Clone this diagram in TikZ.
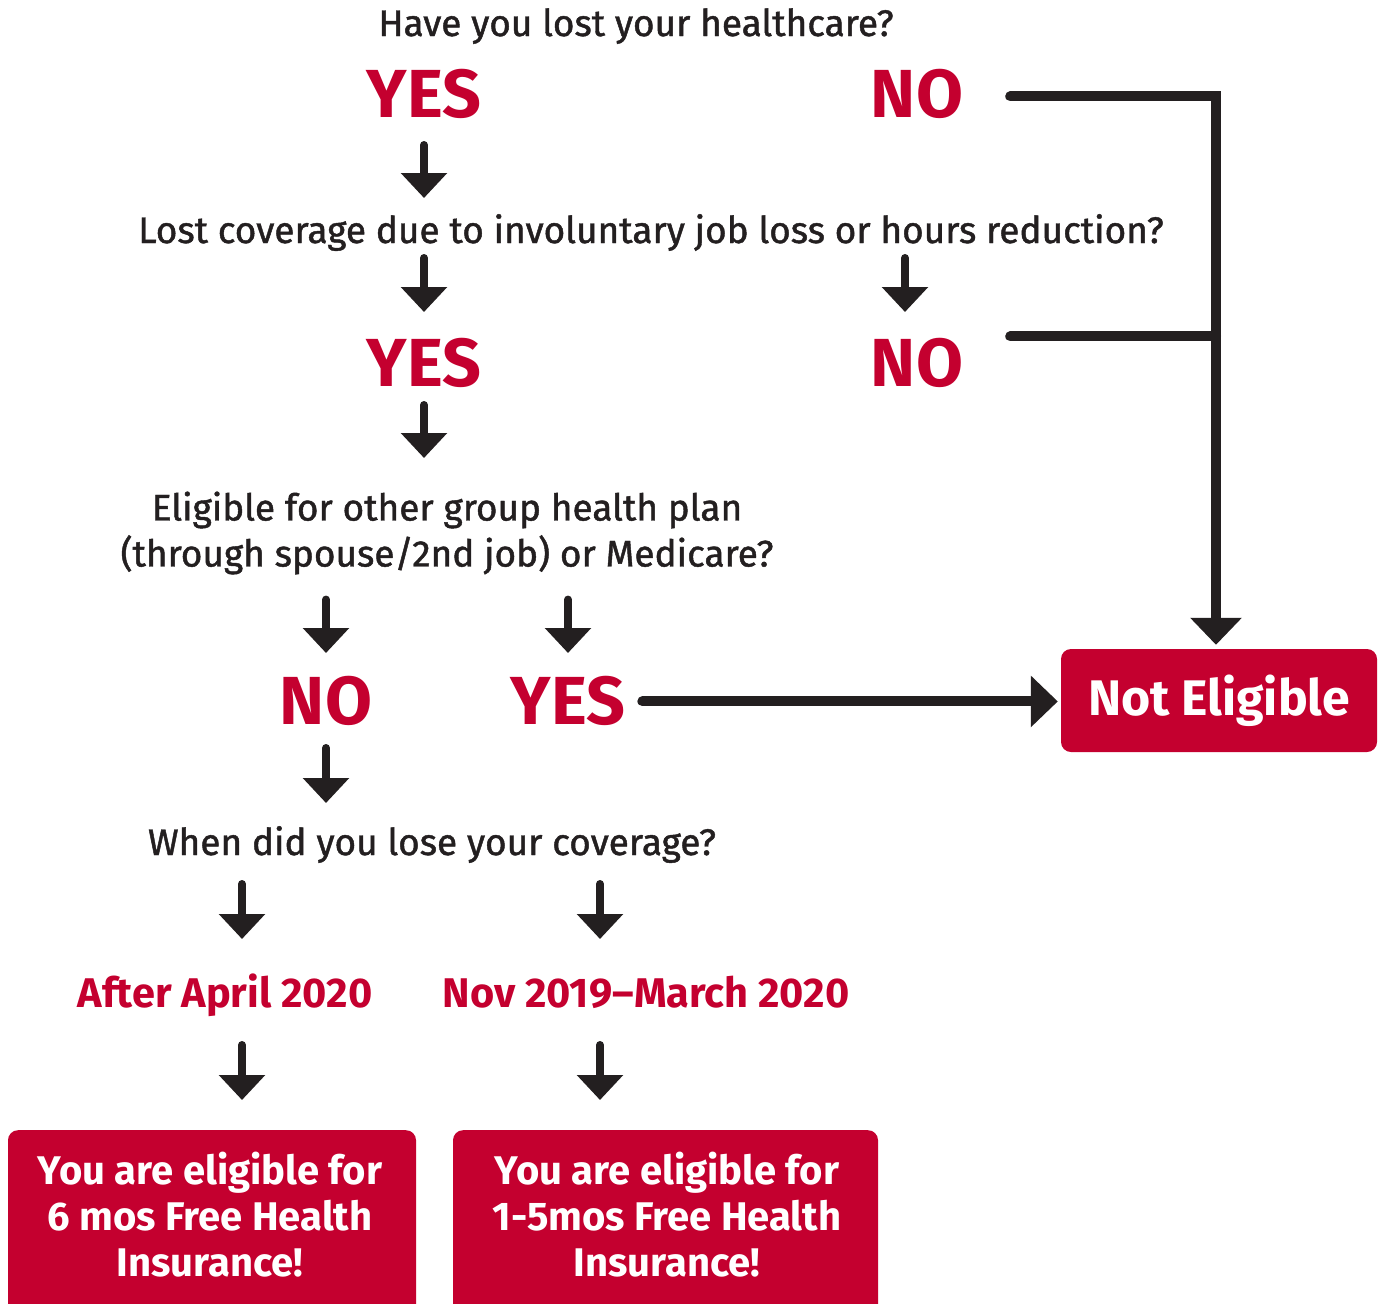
\documentclass[tikz,border=0pt]{standalone}
\usepackage{fontspec}
\setmainfont{Fira Sans}
\newfontfamily\qfont{Fira Sans}[FakeBold=1.2]
\usetikzlibrary{arrows.meta,calc}
\definecolor{fred}{HTML}{C4002F}
\definecolor{fblack}{HTML}{231F20}
\begin{document}
\begin{tikzpicture}[x=1pt,y=-1pt,
  q/.style={inner sep=0pt, anchor=base, text=fblack, font={\qfont\fontsize{37}{46}\selectfont}},
  yn/.style={inner sep=0pt, anchor=base, text=fred, font={\bfseries\fontsize{68}{74}\selectfont}},
  when/.style={inner sep=0pt, anchor=base, text=fred, font={\bfseries\fontsize{41.5}{46}\selectfont}},
  arr/.style={draw=fblack, line width=8pt, line cap=round, -{Triangle[width=45pt,length=25pt]}},
  conn/.style={draw=fblack, line width=10pt, line cap=round, line join=miter},
  bigtip/.style={-{Triangle[width=50pt,length=27pt]}},
  box/.style={fill=fred, rounded corners=10pt, inner sep=0pt},
  wtext/.style={text=white, font={\bfseries\fontsize{40}{46}\selectfont}, align=center, inner sep=0pt},
]
\useasboundingbox (0,0) rectangle (1385,1304);
\clip (0,0) rectangle (1385,1304);
\fill[white] (0,0) rectangle (1385,1304);

% text nodes
\node[q] (q1) at (636,36) {Have you lost your healthcare?};
\node[yn] (yes1) at (424,117) {YES};
\node[yn] (no1) at (917,117) {NO};
\node[q] (q2) at (651,243) {Lost coverage due to involuntary job loss or hours reduction?};
\node[yn] (yes2) at (424,386) {YES};
\node[yn] (no2) at (917,386) {NO};
\node[q, anchor=center, align=center] (q3) at (447,533) {Eligible for other group health plan\\(through spouse/2nd job) or Medicare?};
\node[yn] (no3) at (326,724) {NO};
\node[yn] (yes3) at (568,724) {YES};
\node[q] (q4) at (432,855) {When did you lose your coverage?};
\node[when] (d1) at (225,1007) {After April 2020};
\node[when] (d2) at (646,1007) {Nov 2019–March 2020};

% boxes
\node[box, minimum width=316pt, minimum height=103pt, text=white, font={\bfseries\fontsize{50}{56}\selectfont}] (ne) at (1219,700.5) {Not Eligible};
\node[box, minimum width=408pt, minimum height=200pt, anchor=north] (b1) at (212,1130) {};
\node[wtext] (t1) at (210,1215) {You are eligible for\\6 mos Free Health\\Insurance!};
\node[box, minimum width=425pt, minimum height=200pt, anchor=north] (b2) at (665.5,1130) {};
\node[wtext] (t2) at (667,1215) {You are eligible for\\1-5mos Free Health\\Insurance!};

% arrows
\draw[arr] ($(yes1.base)+(0,28)$) -- ($(yes1.base |- q2.base)+(0,-45)$);
\draw[arr] ($(yes2.base |- q2.base)+(0,15)$) -- ($(yes2.base)+(0,-74)$);
\draw[arr] ($(no2.base |- q2.base)+(-12,15)$) -- ($(no2.base)+(-12,-74)$);
\draw[arr] ($(yes2.base)+(0,19)$) -- ($(yes2.base)+(0,72)$);
\draw[arr] ($(no3.base |- q3.south)+(0,25)$) -- ($(no3.base)+(0,-71)$);
\draw[arr] ($(yes3.base |- q3.south)+(0,25)$) -- ($(yes3.base)+(0,-71)$);
\draw[arr] ($(no3.base)+(0,24)$) -- ($(no3.base |- q4.base)+(0,-52)$);
\draw[arr] ($(q4.base -| d1.base)+(17,29)$) -- ($(d1.base)+(17,-68)$);
\draw[arr] ($(q4.base -| d2.base)+(-46,29)$) -- ($(d2.base)+(-46,-68)$);
\draw[arr] ($(d1.base)+(17,38)$) -- ($(b1.north)+(30,-30)$);
\draw[arr] ($(d2.base)+(-46,38)$) -- ($(b2.north)+(-65.5,-30)$);

% connectors to Not Eligible
\draw[conn, bigtip, shorten >=4pt] ($(no1.east)+(47,3)$) -| ($(ne.north)+(-3,0)$);
\draw[conn] ($(no2.east)+(47,-26)$) -- ($(ne.north |- no2.east)+(-3,-26)$);
\draw[conn, bigtip, shorten >=3pt] ($(yes3.east)+(17,1)$) -- ($(ne.west |- yes3.east)+(0,1)$);
\end{tikzpicture}
\end{document}
